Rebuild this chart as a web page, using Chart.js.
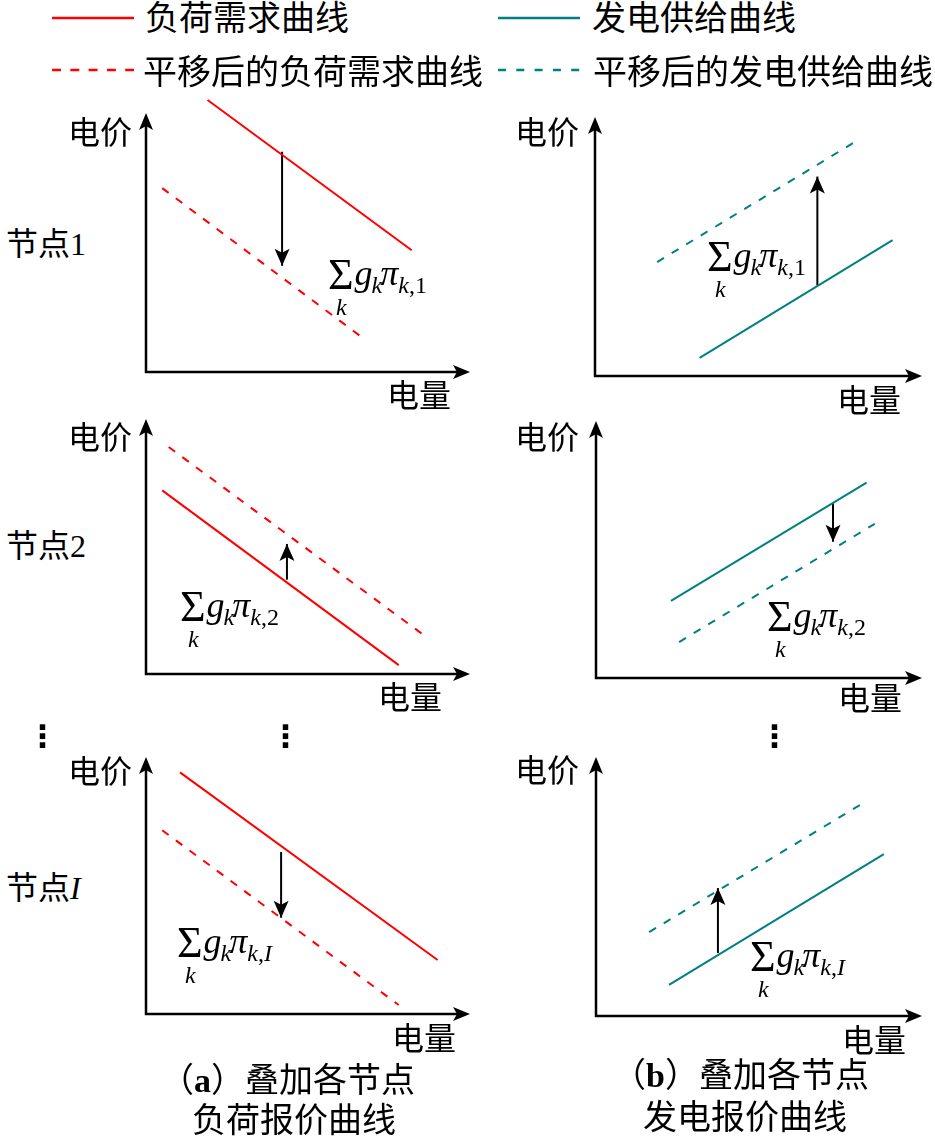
<!DOCTYPE html>
<html>
<head>
<meta charset="utf-8">
<script src="https://cdn.jsdelivr.net/npm/chart.js@4.4.1/dist/chart.umd.min.js"></script>
<style>
  body { margin: 0; background: #fff; width: 935px; height: 1138px; position: relative; overflow: hidden; }
  canvas { position: absolute; }
  .t { position: absolute; font-family: "Noto Sans CJK SC"; font-size: 32px; line-height: 32px; white-space: nowrap; color: #000; }
  .big { font-size: 34px; line-height: 34px; }
  .sf { font-family: "Liberation Serif"; }
  .dots { position: absolute; width: 20px; text-align: center; font-family: "DejaVu Sans"; font-weight: bold; font-size: 31px; line-height: 32px; }
  .m { position: absolute; font-family: "Liberation Serif"; font-size: 36px; line-height: 36px; white-space: nowrap; color: #000; }
  .m span { display: inline-block; line-height: 0; position: relative; }
  .m .sg { font-size: 44px; top: 4px; }
  .m .i { font-style: italic; }
  .m .s { font-size: 24px; top: 8px; }
  .m .uk { position: absolute; left: 8px; top: 52px; font-style: italic; font-size: 24px; }
  .leg { position: absolute; }
</style>
</head>
<body>

<!-- legend -->
<svg class="leg" style="left:52px;top:12px" width="82" height="12"><line x1="0" y1="6" x2="82" y2="6" stroke="#ff0000" stroke-width="2.5"/></svg>
<div class="t big" style="left:145px;top:-1px">负荷需求曲线</div>
<svg class="leg" style="left:498px;top:12px" width="82" height="12"><line x1="0" y1="6" x2="82" y2="6" stroke="#008080" stroke-width="2.5"/></svg>
<div class="t big" style="left:592px;top:-1px">发电供给曲线</div>
<svg class="leg" style="left:52px;top:64px" width="82" height="12"><line x1="0" y1="6" x2="82" y2="6" stroke="#ff0000" stroke-width="2.5" stroke-dasharray="9 9.3"/></svg>
<div class="t big" style="left:143px;top:53px">平移后的负荷需求曲线</div>
<svg class="leg" style="left:498px;top:64px" width="82" height="12"><line x1="0" y1="6" x2="82" y2="6" stroke="#008080" stroke-width="2.5" stroke-dasharray="8 10.3"/></svg>
<div class="t big" style="left:593px;top:53px">平移后的发电供给曲线</div>

<!-- axis labels -->
<div class="t" style="left:68px;top:114px">电价</div>
<div class="t" style="left:515px;top:114px">电价</div>
<div class="t" style="left:68px;top:419px">电价</div>
<div class="t" style="left:515px;top:419px">电价</div>
<div class="t" style="left:68px;top:753px">电价</div>
<div class="t" style="left:515px;top:752px">电价</div>

<div class="t" style="left:387px;top:377px">电量</div>
<div class="t" style="left:837px;top:382px">电量</div>
<div class="t" style="left:378px;top:679px">电量</div>
<div class="t" style="left:838px;top:680px">电量</div>
<div class="t" style="left:392px;top:1020px">电量</div>
<div class="t" style="left:842px;top:1022px">电量</div>

<div class="t" style="left:6px;top:225px">节点<span class="sf">1</span></div>
<div class="t" style="left:6px;top:527px">节点<span class="sf">2</span></div>
<div class="t" style="left:6px;top:869px">节点<span class="sf" style="font-style:italic">I</span></div>

<div class="dots" style="left:27px;top:720px">⋮</div>
<div class="dots" style="left:270px;top:720px">⋮</div>
<div class="dots" style="left:759px;top:720px">⋮</div>

<!-- shift labels -->
<div class="m" style="left:328px;top:255px"><span class="sg">Σ</span><span class="uk">k</span><span class="i" style="margin-left:1px">g</span><span class="s i" style="margin-left:-1px">k</span><span class="i" style="margin-left:-2px">π</span><span class="s"><i>k</i>,1</span></div>
<div class="m" style="left:707px;top:237px"><span class="sg">Σ</span><span class="uk">k</span><span class="i" style="margin-left:1px">g</span><span class="s i" style="margin-left:-1px">k</span><span class="i" style="margin-left:-2px">π</span><span class="s"><i>k</i>,1</span></div>
<div class="m" style="left:180px;top:587px"><span class="sg">Σ</span><span class="uk">k</span><span class="i" style="margin-left:1px">g</span><span class="s i" style="margin-left:-1px">k</span><span class="i" style="margin-left:-2px">π</span><span class="s"><i>k</i>,2</span></div>
<div class="m" style="left:767px;top:597px"><span class="sg">Σ</span><span class="uk">k</span><span class="i" style="margin-left:1px">g</span><span class="s i" style="margin-left:-1px">k</span><span class="i" style="margin-left:-2px">π</span><span class="s"><i>k</i>,2</span></div>
<div class="m" style="left:177px;top:923px"><span class="sg">Σ</span><span class="uk">k</span><span class="i" style="margin-left:1px">g</span><span class="s i" style="margin-left:-1px">k</span><span class="i" style="margin-left:-2px">π</span><span class="s"><i>k</i>,<i>I</i></span></div>
<div class="m" style="left:750px;top:937px"><span class="sg">Σ</span><span class="uk">k</span><span class="i" style="margin-left:1px">g</span><span class="s i" style="margin-left:-1px">k</span><span class="i" style="margin-left:-2px">π</span><span class="s"><i>k</i>,<i>I</i></span></div>

<!-- captions -->
<div class="t big" style="left:160px;top:1061px">（<b class="sf">a</b>）叠加各节点</div>
<div class="t big" style="left:192px;top:1101px">负荷报价曲线</div>
<div class="t big" style="left:612px;top:1056px">（<b class="sf">b</b>）叠加各节点</div>
<div class="t big" style="left:643px;top:1098px">发电报价曲线</div>

<script>
// (a) 负荷需求曲线：每个节点两个端点 (电量, 电价)，轴范围 0-100
var demandQ = [[19, 82], [5, 78], [10.5, 90]];
var demandP = [[105, 47], [72, 3.5], [94, 21]];
var demandShiftQ = [[5, 66], [7, 86], [5, 78]];
var demandShiftP = [[71, 14], [89, 15], [71.5, 3.5]];
var demandArrowQ = [42, 43.5, 41.7];
var demandArrowP = [[85, 41], [37, 51], [63, 37.5]];

// (b) 发电供给曲线
var supplyQ = [[32, 91], [23, 83], [22.4, 88.3]];
var supplyP = [[7, 52.5], [30, 76], [12, 62.5]];
var supplyShiftQ = [[19, 79], [25.5, 85.5], [16.3, 81]];
var supplyShiftP = [[44, 90], [14, 60], [32.4, 81.5]];
var supplyArrowQ = [68, 72.7, 37.4];
var supplyArrowP = [[35, 77], [68, 53], [24.3, 49.4]];

var RED = "#ff0000";
var TEAL = "#008080";
var PAD = 22;

// axis origin / arrow tips of each panel on the page
var boxes = [
  { axisX: 146, tipX: 470, axisY: 372, tipY: 113 },
  { axisX: 595, tipX: 922, axisY: 376, tipY: 117 },
  { axisX: 146, tipX: 470, axisY: 674, tipY: 419 },
  { axisX: 596, tipX: 922, axisY: 678, tipY: 421 },
  { axisX: 146, tipX: 470, axisY: 1014, tipY: 757 },
  { axisX: 596, tipX: 922, axisY: 1016, tipY: 757 }
];

function pts(qs, ps) {
  return qs.map(function (q, i) { return { x: q, y: ps[i] }; });
}

function head(ctx, x, y, dx, dy, len, half, notch) {
  var px = -dy, py = dx;
  ctx.beginPath();
  ctx.moveTo(x, y);
  ctx.lineTo(x - dx * len + px * half, y - dy * len + py * half);
  ctx.lineTo(x - dx * (len - notch), y - dy * (len - notch));
  ctx.lineTo(x - dx * len - px * half, y - dy * len - py * half);
  ctx.closePath();
  ctx.fill();
}

var arrowsPlugin = {
  id: "arrows",
  afterDatasetsDraw: function (chart) {
    var ctx = chart.ctx;
    var x = chart.scales.x, y = chart.scales.y;
    var ox = x.getPixelForValue(0), oy = y.getPixelForValue(0);
    var tx = x.getPixelForValue(100), ty = y.getPixelForValue(100);
    ctx.save();
    ctx.strokeStyle = "#000";
    ctx.fillStyle = "#000";
    ctx.lineWidth = 2.5;
    ctx.beginPath();
    ctx.moveTo(ox, ty + 8);
    ctx.lineTo(ox, oy);
    ctx.lineTo(tx - 8, oy);
    ctx.stroke();
    head(ctx, tx, oy, 1, 0, 17, 7, 4);
    head(ctx, ox, ty, 0, -1, 17, 7, 4);
    // shift arrow head
    var meta = chart.getDatasetMeta(2);
    var a = meta.data[0], b = meta.data[1];
    head(ctx, b.x, b.y, 0, b.y > a.y ? 1 : -1, 17, 7.5, 4);
    ctx.restore();
  }
};

function makePanel(i, color, base, shifted, arrow) {
  var box = boxes[i];
  var c = document.createElement("canvas");
  c.width = box.tipX - box.axisX + 2 * PAD;
  c.height = box.axisY - box.tipY + 2 * PAD;
  c.style.left = (box.axisX - PAD) + "px";
  c.style.top = (box.tipY - PAD) + "px";
  document.body.insertBefore(c, document.body.firstChild);

  new Chart(c, {
    type: "line",
    data: {
      datasets: [
        { data: base, borderColor: color, borderWidth: 2, pointRadius: 0, clip: false },
        { data: shifted, borderColor: color, borderWidth: 2, borderDash: [8, 9], pointRadius: 0, clip: false },
        { data: arrow, borderColor: "#000", borderWidth: 2, pointRadius: 0, clip: false }
      ]
    },
    options: {
      responsive: false,
      animation: false,
      devicePixelRatio: 1,
      layout: { padding: PAD },
      plugins: { legend: { display: false }, tooltip: { enabled: false } },
      scales: {
        x: { type: "linear", min: 0, max: 100, display: false },
        y: { type: "linear", min: 0, max: 100, display: false }
      }
    },
    plugins: [arrowsPlugin]
  });
}

for (var n = 0; n < 3; n++) {
  makePanel(n * 2, RED,
    pts(demandQ[n], demandP[n]),
    pts(demandShiftQ[n], demandShiftP[n]),
    pts([demandArrowQ[n], demandArrowQ[n]], demandArrowP[n]));
  makePanel(n * 2 + 1, TEAL,
    pts(supplyQ[n], supplyP[n]),
    pts(supplyShiftQ[n], supplyShiftP[n]),
    pts([supplyArrowQ[n], supplyArrowQ[n]], supplyArrowP[n]));
}
</script>
</body>
</html>
